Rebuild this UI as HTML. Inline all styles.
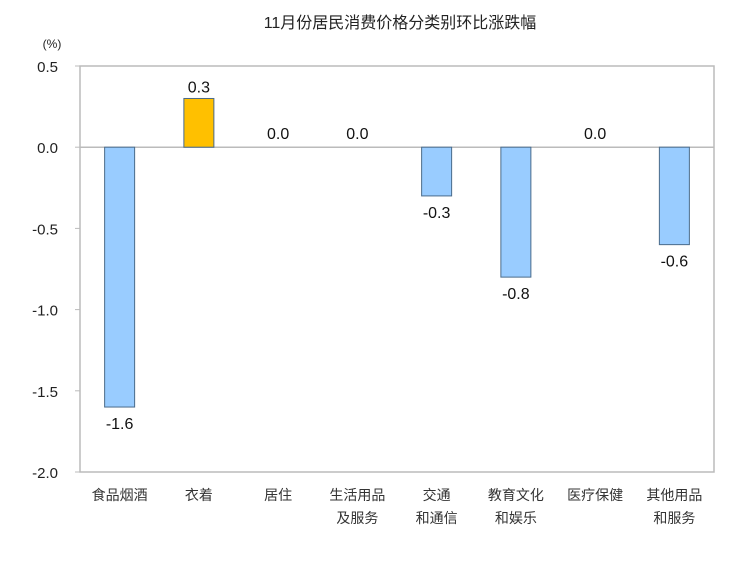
<!DOCTYPE html>
<html><head><meta charset="utf-8"><style>
body{margin:0;background:#fff;width:753px;height:562px;overflow:hidden}
text{font-family:"Liberation Sans","Noto Sans CJK SC",sans-serif}
</style></head><body>
<svg id="chart" width="753" height="562">
<text x="400" y="28" text-anchor="middle" font-size="16" fill="#222">11月份居民消费价格分类别环比涨跌幅</text>
<text x="52" y="48" text-anchor="middle" font-size="12" font-family="Liberation Serif" fill="#222">(%)</text>
<rect x="80" y="66" width="634" height="406" fill="none" stroke="#bbb" stroke-width="1.5"/>
<g id="g"></g>
</svg>
<script>
const categories=[["食品烟酒"],["衣着"],["居住"],["生活用品","及服务"],["交通","和通信"],["教育文化","和娱乐"],["医疗保健"],["其他用品","和服务"]];
const values=[-1.6,0.3,0.0,0.0,-0.3,-0.8,0.0,-0.6];
const ticks=[0.5,0.0,-0.5,-1.0,-1.5,-2.0];
const L=80,R=714,T=66,B=472,ymax=0.5,ymin=-2.0;
const y=v=>T+(ymax-v)/(ymax-ymin)*(B-T);
const bw=(R-L)/categories.length;
const x=i=>L+bw*(i+0.5);
const g=document.getElementById('g');
const NS='http://www.w3.org/2000/svg';
function mk(t,a){const e=document.createElementNS(NS,t);for(const k in a)e.setAttribute(k,a[k]);g.appendChild(e);return e;}
ticks.forEach(t=>{
 const e=mk('text',{x:L-22,y:y(t)+6,'text-anchor':'end','font-size':15,fill:'#222'});e.textContent=t.toFixed(1);
 
 
 const l=mk('line',{x1:L-5,x2:L,y1:y(t),y2:y(t),stroke:'#bbb'});
 
 
});
const z=mk('line',{x1:L,x2:R,y1:y(0),y2:y(0),stroke:'#bbb','stroke-width':1.5});


values.forEach((v,i)=>{
 const cx=x(i),w=30;
 if(v!==0){
  const r=mk('rect',{x:cx-w/2,y:Math.min(y(v),y(0)),width:w,height:Math.abs(y(v)-y(0)),fill:v>0?'#ffc000':'#99ccff',stroke:'#4a6b8a','stroke-width':1});
  
  
 }
 const ly=v>0?y(v)-6:(v<0?y(v)+22:y(0)-8);
 const t=mk('text',{x:cx,y:ly,'text-anchor':'middle','font-size':16,fill:'#111'});t.textContent=v.toFixed(1);
 
 
 categories[i].forEach((s,j)=>{
  const c=mk('text',{x:cx,y:500+j*23,'text-anchor':'middle','font-size':14,fill:'#333'});c.textContent=s;
  
  
 });
});
</script>
</body></html>
